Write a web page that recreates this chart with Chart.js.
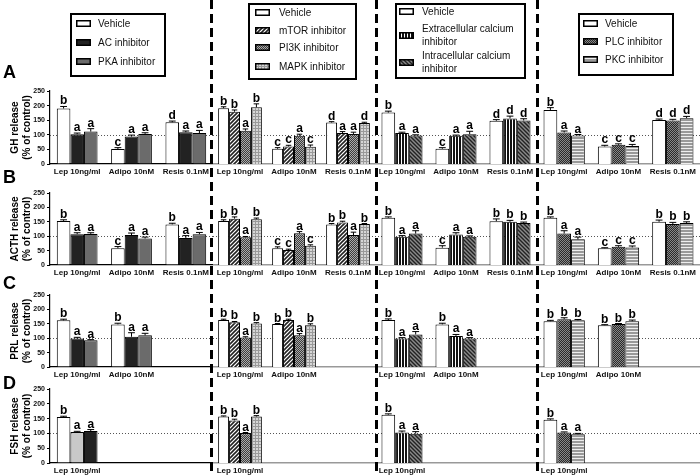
<!DOCTYPE html>
<html>
<head>
<meta charset="utf-8">
<script src="https://cdn.jsdelivr.net/npm/chart.js@4.4.1/dist/chart.umd.min.js"></script>
<style>
  body { margin: 0; background: #fff; font-family: Arial, "Liberation Sans", sans-serif; }
  #wrap { position: relative; width: 700px; height: 476px; overflow: hidden; }
  #wrap canvas.panel { position: absolute; }
  .sep { position: absolute; top: 0; width: 3px; height: 476px;
         background: repeating-linear-gradient(to bottom, #000 0 9px, transparent 9px 14px); }
  .legend { position: absolute; border: 2px solid #000; background: #fff; box-sizing: border-box; }
  .legend .txt { position: absolute; font-size: 10px; line-height: 13px; color: #111; white-space: nowrap; }
  .legend canvas { position: absolute; }
  .rowLetter { position: absolute; left: 3px; font: bold 18px Arial, "Liberation Sans", sans-serif; line-height: 18px; }
</style>
</head>
<body>
<div id="wrap"></div>
<script>
// categories and tick labels
const groups = ['Lep 10ng/ml', 'Adipo 10nM', 'Resis 0.1nM'];
const hormones = ['GH release', 'ACTH release', 'PRL release', 'FSH release'];
const rowLetters = ['A', 'B', 'C', 'D'];
const yTicks = [0, 50, 100, 150, 200, 250];

// series names per panel
const campSeries = ['Vehicle', 'AC inhibitor', 'PKA inhibitor'];
const kinaseSeries = ['Vehicle', 'mTOR inhibitor', 'PI3K inhibitor', 'MAPK inhibitor'];
const calciumSeries = ['Vehicle', 'Extracellular calcium\ninhibitor', 'Intracellular calcium\ninhibitor'];
const plcSeries = ['Vehicle', 'PLC inhibitor', 'PKC inhibitor'];

// GH (values per series, one entry per group)
const ghCamp = [[190, 51, 143], [102, 94, 109], [111, 103, 106]];
const ghCampErr = [[7, 5, 4], [4, 5, 4], [10, 4, 9]];
const ghCampSig = ['bcd', 'aaa', 'aaa'];
const ghKin = [[191, 52, 142], [179, 60, 106], [114, 97, 103], [194, 59, 140]];
const ghKinErr = [[5, 4, 3], [6, 4, 5], [6, 5, 6], [12, 6, 3]];
const ghKinSig = ['bcd', 'bca', 'aaa', 'bcd'];
const ghCa = [[176, 52, 148], [106, 97, 156], [98, 102, 149]];
const ghCaErr = [[5, 4, 4], [3, 2, 8], [2, 10, 6]];
const ghCaSig = ['bcd', 'aad', 'aad'];
const ghPlc = [[185, 60, 151], [108, 66, 149], [98, 62, 157]];
const ghPlcErr = [[8, 4, 3], [5, 3, 4], [3, 5, 6]];
const ghPlcSig = ['bcd', 'acd', 'acd'];

// ACTH
const acthCamp = [[153, 58, 141], [107, 104, 94], [108, 92, 107]];
const acthCampErr = [[4, 6, 4], [5, 7, 8], [4, 5, 6]];
const acthCampSig = ['bcb', 'aaa', 'aaa'];
const acthKin = [[153, 58, 141], [161, 52, 148], [96, 110, 104], [159, 67, 142]];
const acthKinErr = [[4, 5, 3], [6, 3, 4], [3, 6, 10], [4, 3, 2]];
const acthKinSig = ['bcb', 'bcb', 'aaa', 'bcb'];
const acthCa = [[164, 60, 152], [98, 106, 150], [109, 98, 146]];
const acthCaErr = [[3, 7, 8], [4, 6, 5], [10, 3, 3]];
const acthCaSig = ['bcb', 'aab', 'aab'];
const acthPlc = [[164, 58, 150], [109, 63, 142], [89, 61, 146]];
const acthPlcErr = [[3, 2, 6], [10, 4, 6], [8, 5, 4]];
const acthPlcSig = ['bcb', 'acb', 'acb'];

// PRL
const prlCamp = [[162, 148], [99, 105], [93, 110]];
const prlCampErr = [[4, 4], [4, 14], [2, 7]];
const prlCampSig = ['bb', 'aa', 'aa'];
const prlKin = [[163, 149], [155, 163], [102, 110], [151, 145]];
const prlKinErr = [[3, 2], [3, 3], [3, 6], [3, 5]];
const prlKinSig = ['bb', 'bb', 'aa', 'bb'];
const prlCa = [[163, 148], [99, 108], [113, 99]];
const prlCaErr = [[4, 4], [3, 5], [10, 3]];
const prlCaSig = ['bb', 'aa', 'aa'];
const prlPlc = [[159, 145], [166, 149], [162, 159]];
const prlPlcErr = [[3, 2], [5, 2], [3, 4]];
const prlPlcSig = ['bb', 'bb', 'bb'];

// FSH
const fshCamp = [[155], [105], [108]];
const fshCampErr = [[3], [2], [5]];
const fshCampSig = ['b', 'a', 'a'];
const fshKin = [[157], [144], [101], [157]];
const fshKinErr = [[2], [4], [2], [3]];
const fshKinSig = ['b', 'b', 'a', 'b'];
const fshCa = [[163], [103], [99]];
const fshCaErr = [[3], [5], [7]];
const fshCaSig = ['b', 'a', 'a'];
const fshPlc = [[146], [103], [97]];
const fshPlcErr = [[3], [2], [3]];
const fshPlcSig = ['b', 'a', 'a'];

Chart.defaults.font.family = 'Arial, "Liberation Sans", sans-serif';

// fill patterns
function tile(size, draw) {
  const c = document.createElement('canvas');
  c.width = c.height = size;
  const g = c.getContext('2d');
  draw(g, size);
  return g.createPattern(c, 'repeat');
}
const pat = {
  diag: tile(4, (g, s) => {
    g.fillStyle = '#fff'; g.fillRect(0, 0, s, s);
    g.strokeStyle = '#222'; g.lineWidth = 1.6;
    g.beginPath(); g.moveTo(0, s); g.lineTo(s, 0); g.moveTo(-1, 1); g.lineTo(1, -1);
    g.moveTo(s - 1, s + 1); g.lineTo(s + 1, s - 1); g.stroke();
  }),
  check: tile(2, g => {
    g.fillStyle = '#3c3c3c'; g.fillRect(0, 0, 2, 2);
    g.fillStyle = '#aaa'; g.fillRect(0, 0, 1, 1); g.fillRect(1, 1, 1, 1);
  }),
  checkDark: tile(2, g => {
    g.fillStyle = '#2a2a2a'; g.fillRect(0, 0, 2, 2);
    g.fillStyle = '#888'; g.fillRect(0, 0, 1, 1); g.fillRect(1, 1, 1, 1);
  }),
  grid: tile(3, g => {
    g.fillStyle = '#d6d6d6'; g.fillRect(0, 0, 3, 3);
    g.fillStyle = '#999'; g.fillRect(0, 0, 3, 1); g.fillRect(0, 0, 1, 3);
  }),
  vstripe: tile(3, g => {
    g.fillStyle = '#fff'; g.fillRect(0, 0, 3, 3);
    g.fillStyle = '#111'; g.fillRect(0, 0, 2, 3);
  }),
  diag2: tile(4, (g, s) => {
    g.fillStyle = '#8a8a8a'; g.fillRect(0, 0, s, s);
    g.strokeStyle = '#222'; g.lineWidth = 1.4;
    g.beginPath(); g.moveTo(0, 0); g.lineTo(s, s); g.moveTo(-1, s - 1); g.lineTo(1, s + 1);
    g.moveTo(s - 1, -1); g.lineTo(s + 1, 1); g.stroke();
  }),
  hstripe: tile(3, g => {
    g.fillStyle = '#eee'; g.fillRect(0, 0, 3, 3);
    g.fillStyle = '#999'; g.fillRect(0, 0, 3, 2);
  })
};

const campFills = ['#fff', '#222', '#6b6b6b'];
const fshCampFills = ['#fff', '#c8c8c8', '#222'];
const kinFills = ['#fff', pat.diag, pat.check, pat.grid];
const caFills = ['#fff', pat.vstripe, pat.diag2];
const plcFills = ['#fff', pat.checkDark, pat.hstripe];

const panelSeries = [campSeries, kinaseSeries, calciumSeries, plcSeries];
const panelWidths = [0.75, 0.81, 0.76, 0.76];
const table = [
  [[ghCamp, ghCampErr, ghCampSig], [ghKin, ghKinErr, ghKinSig], [ghCa, ghCaErr, ghCaSig], [ghPlc, ghPlcErr, ghPlcSig]],
  [[acthCamp, acthCampErr, acthCampSig], [acthKin, acthKinErr, acthKinSig], [acthCa, acthCaErr, acthCaSig], [acthPlc, acthPlcErr, acthPlcSig]],
  [[prlCamp, prlCampErr, prlCampSig], [prlKin, prlKinErr, prlKinSig], [prlCa, prlCaErr, prlCaSig], [prlPlc, prlPlcErr, prlPlcSig]],
  [[fshCamp, fshCampErr, fshCampSig], [fshKin, fshKinErr, fshKinSig], [fshCa, fshCaErr, fshCaSig], [fshPlc, fshPlcErr, fshPlcSig]]
];

// layout
const rowBox = [[91, 164], [193, 265], [295, 367], [389, 463]];
const colBox = [[0, 213], [213, 375], [375, 537], [537, 700]];
const rowLetterY = [63, 168, 274, 374];
const wrap = document.getElementById('wrap');

// dotted reference line, error bars and letters
const marks = {
  id: 'marks',
  beforeDatasetsDraw(chart) {
    const { ctx, chartArea: a, scales: { y } } = chart;
    const py = Math.round(y.getPixelForValue(100)) + 0.5;
    ctx.save();
    ctx.strokeStyle = '#555'; ctx.lineWidth = 1; ctx.setLineDash([1, 2]);
    ctx.beginPath(); ctx.moveTo(a.left, py); ctx.lineTo(a.right, py); ctx.stroke();
    ctx.restore();
  },
  afterDatasetsDraw(chart) {
    const { ctx, scales: { y } } = chart;
    ctx.save();
    chart.data.datasets.forEach((ds, i) => {
      chart.getDatasetMeta(i).data.forEach((bar, j) => {
        const v = ds.data[j];
        if (v == null) return;
        const top = y.getPixelForValue(v + ds.err[j]);
        const half = bar.width * 0.25;
        ctx.strokeStyle = '#000'; ctx.lineWidth = 1;
        ctx.beginPath();
        ctx.moveTo(bar.x, bar.y); ctx.lineTo(bar.x, top);
        ctx.moveTo(bar.x - half, top); ctx.lineTo(bar.x + half, top);
        ctx.stroke();
        ctx.fillStyle = '#000';
        ctx.font = 'bold 12px Arial, "Liberation Sans", sans-serif';
        ctx.textAlign = 'center'; ctx.textBaseline = 'alphabetic';
        ctx.fillText(ds.sig[j], bar.x, top - 2);
      });
    });
    ctx.restore();
  }
};

table.forEach((row, r) => {
  const [top, bottom] = rowBox[r];
  row.forEach(([vals, errs, sigs], p) => {
    const [left, right] = colBox[p];
    const n = vals[0].length;
    const labels = groups.map((g, k) => (k < n ? g : ''));
    let fills = [campFills, kinFills, caFills, plcFills][p];
    if (r === 3 && p === 0) fills = fshCampFills;

    const cv = document.createElement('canvas');
    cv.className = 'panel';
    cv.width = right - left;
    cv.height = bottom - top + 14 + 16;
    cv.style.left = left + 'px';
    cv.style.top = (top - 14) + 'px';
    wrap.appendChild(cv);

    const first = p === 0;
    new Chart(cv, {
      type: 'bar',
      data: {
        labels: labels,
        datasets: vals.map((v, s) => ({
          label: panelSeries[p][s],
          data: labels.map((_, k) => (k < n ? v[k] : null)),
          err: errs[s],
          sig: sigs[s],
          backgroundColor: fills[s],
          borderColor: '#000',
          borderWidth: 1,
          borderSkipped: 'bottom'
        }))
      },
      options: {
        responsive: false,
        animation: false,
        events: [],
        layout: { padding: { top: 14, bottom: 0, left: 0, right: 0 } },
        datasets: { bar: { categoryPercentage: panelWidths[p], barPercentage: 1 } },
        plugins: { legend: { display: false }, tooltip: { enabled: false } },
        scales: {
          x: {
            offset: true,
            grid: { display: false, drawTicks: false },
            border: { display: true, color: first ? '#000' : '#999', width: first ? 1.2 : 1.5 },
            ticks: { color: '#111', font: { size: 8, weight: 'bold' }, padding: 3, maxRotation: 0, autoSkip: false },
            afterFit: s => { s.height = 16; }
          },
          y: {
            display: first,
            min: 0, max: 250,
            afterBuildTicks: s => { s.ticks = yTicks.map(v => ({ value: v })); },
            grid: { display: true, drawOnChartArea: false, drawTicks: true, tickLength: 3, color: '#000' },
            border: { display: true, color: '#000', width: 1.2 },
            ticks: { color: '#111', font: { size: 7, weight: 'bold' }, padding: 2 },
            title: {
              display: true,
              text: [hormones[r], '(% of control)'],
              color: '#000',
              font: { size: 10, weight: 'bold' },
              padding: { top: 9, bottom: 0 }
            },
            afterFit: s => { s.width = first ? 50 : 0; }
          }
        }
      },
      plugins: [marks]
    });
  });

  const letter = document.createElement('div');
  letter.className = 'rowLetter';
  letter.style.top = rowLetterY[r] + 'px';
  letter.textContent = rowLetters[r];
  wrap.appendChild(letter);
});

// dashed separators
[210, 375, 536].forEach(x => {
  const d = document.createElement('div');
  d.className = 'sep';
  d.style.left = x + 'px';
  wrap.appendChild(d);
});

// legends
function legend(box, names, fills, centers, sx, tx) {
  const el = document.createElement('div');
  el.className = 'legend';
  el.style.left = box[0] + 'px'; el.style.top = box[1] + 'px';
  el.style.width = box[2] + 'px'; el.style.height = box[3] + 'px';
  names.forEach((name, i) => {
    const sw = document.createElement('canvas');
    sw.width = 15; sw.height = 7;
    sw.style.left = sx + 'px';
    sw.style.top = (centers[i] - 4) + 'px';
    const g = sw.getContext('2d');
    g.fillStyle = fills[i]; g.fillRect(0, 0, 15, 7);
    g.strokeStyle = '#000'; g.lineWidth = 1.5; g.strokeRect(0.75, 0.75, 13.5, 5.5);
    el.appendChild(sw);
    const lines = name.split('\n');
    const t = document.createElement('div');
    t.className = 'txt';
    t.style.left = tx + 'px';
    t.style.top = (centers[i] - 6.5 * lines.length - 1) + 'px';
    lines.forEach((ln, k) => {
      if (k) t.appendChild(document.createElement('br'));
      t.appendChild(document.createTextNode(ln));
    });
    el.appendChild(t);
  });
  wrap.appendChild(el);
}
legend([70, 13, 96, 64], campSeries, campFills, [9, 28, 47], 4, 26);
legend([248, 3, 109, 77], kinaseSeries, kinFills, [8, 26, 43, 62], 5, 29);
legend([395, 3, 131, 76], calciumSeries, caFills, [7, 31, 58], 2, 25);
legend([578, 13, 96, 63], plcSeries, plcFills, [9, 27, 45], 3, 25);
</script>
</body>
</html>
